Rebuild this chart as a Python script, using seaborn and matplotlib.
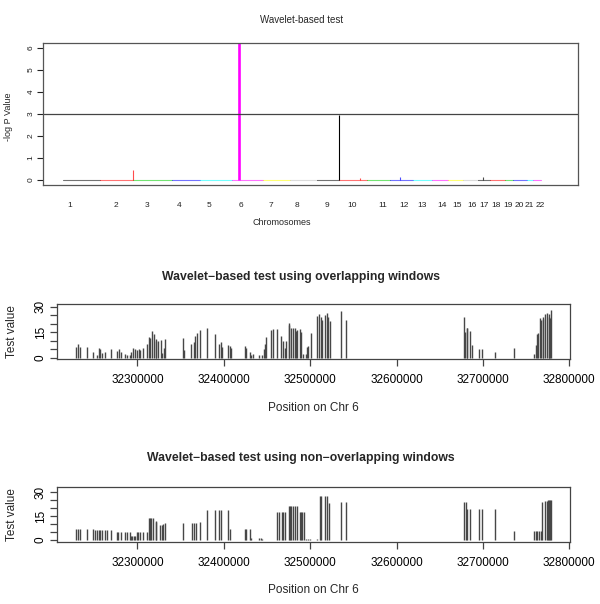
import numpy as np
import pandas as pd
import seaborn as sns
import matplotlib
matplotlib.use("Agg")
import matplotlib.pyplot as plt
from matplotlib.ticker import FixedLocator

# genome-wide scan: chromosome spans on a cumulative axis (Mb)
chroms = [str(i) for i in range(1, 23)]
chrom_start = [0, 222, 420, 654, 822, 1014, 1200, 1362, 1524, 1656, 1824,
               1962, 2100, 2214, 2310, 2400, 2490, 2562, 2652, 2700, 2784, 2820]
chrom_end = chrom_start[1:] + [2868]
chrom_label_pos = [42, 318, 504, 696, 876, 1068, 1248, 1404, 1584, 1734, 1920,
                   2046, 2154, 2274, 2364, 2454, 2526, 2598, 2670, 2736, 2796, 2862]
r_palette = ["#000000", "#FF0000", "#00CD00", "#0000FF",
             "#00FFFF", "#FF00FF", "#FFFF00", "#BEBEBE"]
chrom_colors = [r_palette[i % 8] for i in range(22)]

peak_chrom = [2, 6, 9, 10, 12, 17]
peak_pos = [420, 1056, 1656, 1782, 2022, 2520]
peak_logp = [0.45, 6.2, 2.95, 0.1, 0.12, 0.12]
threshold = 3

# chr 6 region, overlapping windows (position in kb, test value)
overlap_kb = [32229, 32231, 32234, 32242, 32249, 32253, 32255, 32257, 32259, 32263,
              32269, 32276, 32279, 32281, 32286, 32288, 32291, 32293, 32295, 32297,
              32299, 32302, 32303, 32307, 32311, 32313, 32315, 32317, 32319, 32321,
              32322, 32324, 32327, 32329, 32331, 32332, 32353, 32354, 32362, 32365,
              32367, 32369, 32373, 32381, 32390, 32395, 32397, 32398, 32405, 32407,
              32408, 32424, 32426, 32430, 32431, 32434, 32441, 32444, 32446, 32448,
              32449, 32455, 32457, 32462, 32466, 32468, 32471, 32472, 32475, 32476,
              32478, 32480, 32482, 32484, 32485, 32488, 32489, 32492, 32495, 32496,
              32498, 32501, 32508, 32510, 32512, 32514, 32517, 32519, 32521, 32523,
              32536, 32541, 32678, 32679, 32681, 32682, 32685, 32687, 32695, 32699,
              32714, 32736, 32759, 32761, 32763, 32764, 32766, 32767, 32769, 32770,
              32772, 32774, 32776, 32777, 32778, 32779]
overlap_val = [6.5, 7.9, 6.1, 6.5, 3.5, 1.6, 5.5, 4.9, 2.5, 3.1,
               4.9, 3.9, 4.9, 3.5, 2.1, 1.3, 1.6, 3.5, 5.9, 4.9,
               4.5, 4.9, 4.5, 5.9, 8.2, 12.4, 11.8, 15.7, 13.7, 10.8,
               9.8, 9.8, 10.4, 2.5, 5.5, 11.2, 11.8, 4.5, 7.9, 9.4,
               12.9, 14.7, 16.3, 17.3, 14.1, 7.9, 9.4, 6.5, 7.5, 6.9,
               5.9, 6.9, 5.5, 3.1, 1.6, 2.3, 1.6, 1.6, 4.9, 8.2,
               12.4, 16.1, 16.7, 16.7, 12.7, 9.8, 5.5, 9.8, 20.2, 19.2,
               17.3, 17.6, 17.3, 15.7, 16.3, 16.7, 14.9, 2.0, 2.0, 6.1,
               6.9, 14.5, 24.7, 25.5, 24.1, 22.2, 25.1, 26.1, 23.7, 21.8,
               27.5, 22.2, 24.1, 15.3, 17.3, 17.6, 15.7, 7.5, 5.1, 5.1,
               3.5, 5.5, 2.0, 7.5, 14.1, 14.7, 23.2, 22.2, 22.5, 24.0,
               25.7, 26.5, 25.7, 24.0, 23.2, 28.0]

# chr 6 region, non-overlapping windows
nonover_kb = [32229, 32231, 32233, 32242, 32249, 32251, 32253, 32255, 32257, 32259,
              32262, 32265, 32269, 32276, 32278, 32281, 32286, 32288, 32291, 32293,
              32294, 32296, 32297, 32299, 32301, 32303, 32306, 32311, 32313, 32315,
              32316, 32318, 32321, 32322, 32326, 32328, 32330, 32332, 32353, 32363,
              32365, 32368, 32373, 32381, 32390, 32394, 32397, 32405, 32407, 32424,
              32426, 32430, 32431, 32441, 32443, 32444, 32450, 32453, 32457, 32462,
              32464, 32467, 32469, 32471, 32475, 32477, 32478, 32480, 32482, 32485,
              32488, 32489, 32491, 32493, 32495, 32498, 32500, 32508, 32511, 32513,
              32517, 32519, 32522, 32536, 32542, 32678, 32680, 32682, 32685, 32695,
              32699, 32714, 32736, 32759, 32761, 32763, 32765, 32767, 32768, 32772,
              32774, 32775, 32777, 32778, 32779]
nonover_val = [6.7, 6.7, 6.7, 6.7, 6.7, 6.5, 6.5, 6.5, 6.5, 6.5,
               6.5, 6.5, 6.5, 5.2, 5.2, 5.2, 5.2, 5.2, 5.2, 2.2,
               2.2, 2.2, 2.2, 5.2, 5.2, 5.2, 5.2, 5.2, 13.5, 13.5,
               13.5, 13.5, 12.0, 11.5, 9.4, 9.4, 10.0, 10.4, 10.6, 10.6,
               10.6, 10.6, 11.5, 18.8, 18.8, 18.8, 18.8, 18.8, 6.9, 6.7,
               6.7, 6.7, 1.0, 1.0, 1.0, 0.6, 0.2, 0.2, 0.2, 17.3,
               17.3, 17.3, 17.3, 17.3, 21.5, 21.5, 21.5, 21.5, 21.5, 21.5,
               17.3, 17.3, 17.3, 17.3, 0.3, 0.3, 0.3, 0.4, 27.5, 27.5,
               27.5, 27.5, 23.3, 23.5, 23.5, 24.0, 24.0, 19.2, 19.2, 19.2,
               19.2, 19.2, 5.8, 5.8, 5.8, 5.8, 5.8, 5.8, 24.0, 24.5,
               24.5, 25.0, 25.2, 25.0, 24.8]

pos_ticks = [32300000, 32400000, 32500000, 32600000, 32700000, 32800000]

sns.set_style("white")
plt.rcParams['font.family'] = ['Liberation Sans', 'DejaVu Sans']

fig = plt.figure(figsize=(6, 6.04), dpi=100)

# ---- top: genome-wide -log P ----
ax1 = fig.add_axes([0.0717, 0.6937, 0.8917, 0.2346])
seg = pd.DataFrame({
    'x': [v for s, e in zip(chrom_start, chrom_end) for v in (s, e)],
    'y': [0.0] * 44,
    'chrom': [c for c in chroms for _ in range(2)],
})
sns.lineplot(data=seg, x='x', y='y', hue='chrom', units='chrom', estimator=None,
             palette=dict(zip(chroms, chrom_colors)), linewidth=0.8, alpha=0.55,
             legend=False, ax=ax1)
for c, p, h in zip(peak_chrom, peak_pos, peak_logp):
    ax1.vlines(p, 0, h, color=chrom_colors[c - 1], lw=1.9 if h > 5 else 0.8,
               alpha=1 if h > 1 else 0.7)
ax1.axhline(threshold, color='#444444', lw=0.9)
ax1.set_xlim(-120, 3090)
ax1.set_ylim(-0.24, 6.2)
ax1.set_xticks(chrom_label_pos)
ax1.set_xticklabels(chroms)
ax1.set_yticks(range(7))
ax1.tick_params(axis='x', length=0, pad=12, labelsize=6, colors='#222222')
ax1.tick_params(axis='y', length=4, width=0.8, pad=2, labelsize=6,
                colors='#222222', left=True)
for lab in ax1.get_yticklabels():
    lab.set_rotation(90)
    lab.set_va('center')
ax1.set_xlabel('')
ax1.set_ylabel('')
for sp in ax1.spines.values():
    sp.set_color('#555555')
    sp.set_linewidth(0.9)
fig.text(0.503, 0.967, 'Wavelet-based test', ha='center', va='center', fontsize=7)
fig.text(0.47, 0.632, 'Chromosomes', ha='center', va='center', fontsize=6.5)
fig.text(0.014, 0.806, '-log P Value', ha='center', va='center', rotation=90, fontsize=6.5)


def region_panel(rect, kb, vals, ylim, title, title_y, xlab_y):
    ax = fig.add_axes(rect)
    pos = np.array(kb) * 1000
    ax.vlines(pos, 0, vals, color='#474747', lw=1.0)
    ax.set_xlim(32206600, 32800800)
    ax.set_ylim(*ylim)
    ax.xaxis.set_major_locator(FixedLocator(pos_ticks))
    ax.set_xticklabels([str(t) for t in pos_ticks])
    ax.yaxis.set_major_locator(FixedLocator([0, 15, 30]))
    ax.yaxis.set_minor_locator(FixedLocator([5, 10, 20, 25]))
    ax.tick_params(axis='both', which='both', direction='out', length=5,
                   width=0.9, color='#444444', labelsize=8.5, labelcolor='black')
    ax.tick_params(axis='x', pad=6, bottom=True)
    ax.tick_params(axis='y', which='both', pad=2, left=True)
    for lab in ax.get_yticklabels():
        lab.set_rotation(90)
        lab.set_va('center')
    for sp in ax.spines.values():
        sp.set_color('#444444')
        sp.set_linewidth(0.9)
    fig.text(0.502, title_y, title, ha='center', va='center', fontsize=8.8,
             fontweight='bold')
    fig.text(0.522, xlab_y, 'Position on Chr 6', ha='center', va='center',
             fontsize=8.5)
    ax.set_ylabel('Test value', fontsize=8.5, labelpad=12)
    ax.yaxis.set_label_coords(-0.075, 0.5)
    return ax


region_panel([0.0945, 0.4056, 0.8555, 0.0911], overlap_kb, overlap_val,
             (-0.8, 31.6), 'Wavelet\u2212based test using overlapping windows',
             0.542, 0.3245)
region_panel([0.0945, 0.1031, 0.8555, 0.0901], nonover_kb, nonover_val,
             (-1.1, 32.9), 'Wavelet\u2212based test using non\u2212overlapping windows',
             0.241, 0.023)

fig.savefig('out.png', dpi=100)
